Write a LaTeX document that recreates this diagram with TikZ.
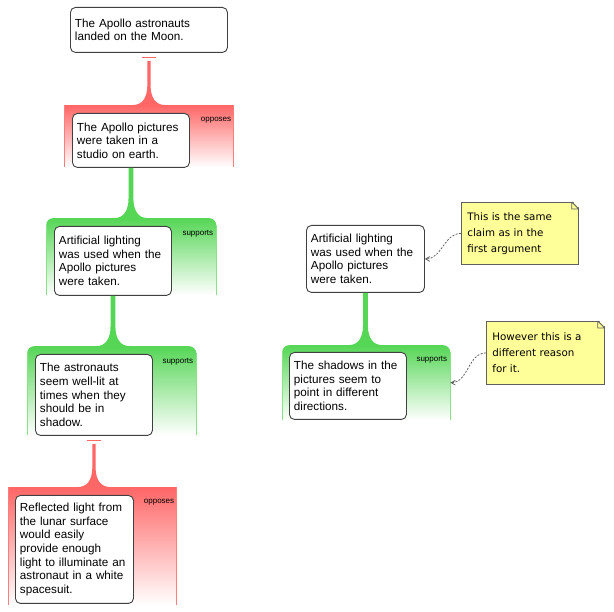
\documentclass[tikz,border=0pt]{standalone}
\usepackage{fontspec}
\setmainfont{Liberation Sans}
\newfontfamily\notefont{DejaVu Sans}
\usepackage{tikz}
\usetikzlibrary{arrows,shapes,positioning,calc}
\definecolor{argred}{RGB}{255,102,102}
\definecolor{arggreen}{RGB}{85,214,85}
\definecolor{boxline}{RGB}{64,64,64}
\definecolor{notefill}{RGB}{255,255,153}
\definecolor{noteline}{RGB}{96,96,96}

\begin{document}
\begin{tikzpicture}[
    x=1pt, y=-1pt,
    claim/.style={rectangle, draw=boxline, fill=white, line width=0.9pt, rounded corners=5pt,
                  anchor=north west, inner xsep=4.5pt, inner ysep=0pt, align=left,
                  font=\fontsize{11.7}{13.6}\selectfont},
    opposearg/.style={rectangle, anchor=north west, inner sep=0pt,
                      top color=argred, middle color=argred!65, bottom color=white},
    supportarg/.style={rectangle, anchor=north west, inner sep=0pt, rounded corners=7pt,
                       top color=arggreen, middle color=arggreen!65, bottom color=white},
    arglabel/.style={anchor=east, inner sep=0pt, font=\fontsize{8}{9}\selectfont},
    notebox/.style={rectangle, draw=noteline, fill=notefill, line width=0.8pt,
                    anchor=north west, inner xsep=6pt, inner ysep=0pt, align=left,
                    font=\notefont\fontsize{10.3}{16}\selectfont},
    notelink/.style={->, >=angle 60, dashed, dash pattern=on 2pt off 1.5pt,
                     draw=noteline, line width=0.8pt}
]
    \useasboundingbox[fill=white] (0,0) rectangle (614,612);

    % Argument regions
    \node[opposearg, minimum width=169pt, minimum height=62pt] (r2) at (64,105) {};
    \node[supportarg, minimum width=170pt, minimum height=77pt] (r3) at (46,218) {};
    \node[supportarg, minimum width=169pt, minimum height=89pt] (r4) at (27,346) {};
    \node[opposearg, minimum width=168pt, minimum height=118pt] (r5) at (8,487) {};
    \node[supportarg, minimum width=168pt, minimum height=75pt] (r7) at (282,345) {};

    % Region edges
    \foreach \reg/\col in {r2/argred, r5/argred} {
        \draw[\col!85, line width=1pt] (\reg.north west) -- (\reg.south west);
        \draw[\col!85, line width=1pt] (\reg.north east) -- (\reg.south east);
    }
    \foreach \reg in {r3, r4, r7} {
        \draw[arggreen!70, line width=1pt] ($(\reg.north west)+(0,7)$) -- (\reg.south west);
        \draw[arggreen!70, line width=1pt] ($(\reg.north east)+(0,7)$) -- (\reg.south east);
    }

    % Claims
    \node[claim, minimum width=157pt, minimum height=45pt, text width=148pt] (b1) at (70,7)
        {The Apollo astronauts\\landed on the Moon.};
    \node[claim, minimum width=117pt, minimum height=54pt, text width=108pt] (b2) at (72,113)
        {The Apollo pictures\\were taken in a\\studio on earth.};
    \node[claim, minimum width=117pt, minimum height=69pt, text width=108pt] (b3) at (54,226)
        {Artificial lighting\\was used when the\\Apollo pictures\\were taken.};
    \node[claim, minimum width=117pt, minimum height=81pt, text width=108pt] (b4) at (35,354)
        {The astronauts\\seem well-lit at\\times when they\\should be in\\shadow.};
    \node[claim, minimum width=118pt, minimum height=108pt, text width=109pt] (b5) at (15,495)
        {Reflected light from\\the lunar surface\\would easily\\provide enough\\light to illuminate an\\astronaut in a white\\spacesuit.};
    \node[claim, minimum width=118pt, minimum height=67pt, text width=109pt] (b6) at (306,225)
        {Artificial lighting\\was used when the\\Apollo pictures\\were taken.};
    \node[claim, minimum width=117pt, minimum height=67pt, text width=108pt] (b7) at (289,352)
        {The shadows in the\\pictures seem to\\point in different\\directions.};

    % Links
    \foreach \src/\reg/\col/\gap/\hw in {b1/r2/argred/8pt/1.6pt, b2/r3/arggreen/0pt/2.4pt,
                                        b3/r4/arggreen/0pt/2.4pt, b4/r5/argred/8pt/1.6pt,
                                        b6/r7/arggreen/0pt/2.4pt} {
        \fill[\col] let \p1=(\src.south), \p2=(\reg.north) in
            (\x1-\hw,\y1-\gap) -- (\x1-\hw,\y2+20pt)
            .. controls (\x1-\hw,\y2+6pt) and (\x1-\hw-6pt,\y2) .. (\x1-16pt,\y2)
            -- (\x1-16pt,\y2-2pt) -- (\x1+16pt,\y2-2pt) -- (\x1+16pt,\y2)
            .. controls (\x1+\hw+6pt,\y2) and (\x1+\hw,\y2+6pt) .. (\x1+\hw,\y2+20pt)
            -- (\x1+\hw,\y1-\gap) -- cycle;
    }
    \foreach \src in {b1, b4} {
        \draw[argred, line width=1pt] ($(\src.south)+(-7,5)$) -- ($(\src.south)+(7,5)$);
    }

    % Labels
    \node[arglabel] (l2) at ($(r2.north east)+(-2,15)$) {opposes};
    \node[arglabel] (l3) at ($(r3.north east)+(-3,16)$) {supports};
    \node[arglabel] (l4) at ($(r4.north east)+(-3,16)$) {supports};
    \node[arglabel] (l5) at ($(r5.north east)+(-2,15)$) {opposes};
    \node[arglabel] (l7) at ($(r7.north east)+(-3,15)$) {supports};

    % Notes
    \node[notebox, minimum width=117pt, minimum height=62pt, text width=105pt] (n1) at (461,202)
        {This is the same\\claim as in the\\first argument};
    \node[notebox, minimum width=118pt, minimum height=63pt, text width=106pt] (n2) at (486,321)
        {However this is a\\different reason\\for it.};
    \foreach \note in {n1, n2} {
        \fill[white] ($(\note.north east)+(-7,-1.5)$) -- ($(\note.north east)+(1.5,-1.5)$)
            -- ($(\note.north east)+(1.5,7)$) -- cycle;
        \draw[noteline, line width=0.8pt] ($(\note.north east)+(-7,0)$) -- ($(\note.north east)+(0,7)$)
            ($(\note.north east)+(-7,0)$) |- ($(\note.north east)+(0,7)$);
    }
    \draw[notelink] (n1.west) to[out=180, in=0] (b6.east);
    \draw[notelink] (n2.west) to[out=180, in=0] (r7.east);
\end{tikzpicture}
\end{document}
